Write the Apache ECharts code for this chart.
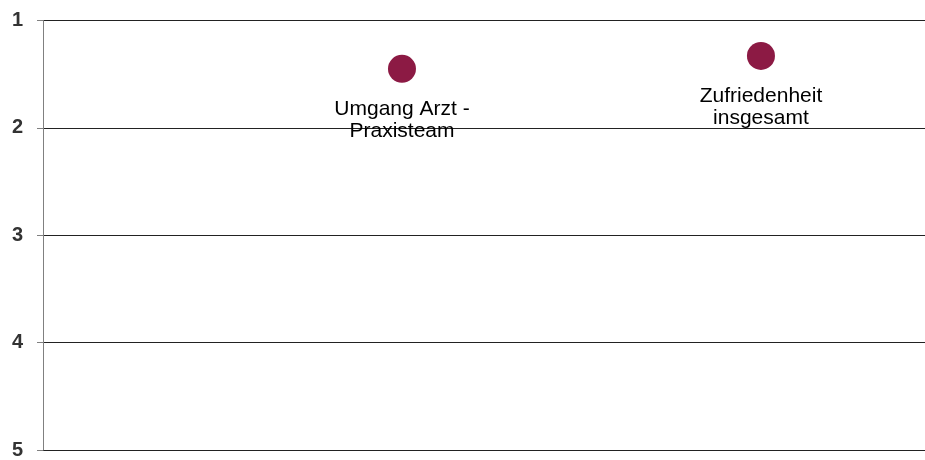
<!DOCTYPE html>
<html>
<head>
<meta charset="utf-8">
<script src="https://cdn.jsdelivr.net/npm/echarts@6/dist/echarts.min.js"></script>
<style>
  html, body { margin: 0; padding: 0; background: #fff; overflow: hidden; }
  #chart { width: 925px; height: 460px; }
</style>
</head>
<body>
<div id="chart"></div>
<script>
// Bewertung (1 = beste Note), Position auf der x-Achse = Reihenfolge
const labels = ['Umgang Arzt -\nPraxisteam', 'Zufriedenheit\ninsgesamt'];
const xPos = [1, 2];
const scores = [1.45, 1.33];
const yTicks = [1, 2, 3, 4, 5];

const chart = echarts.init(document.getElementById('chart'), null, { renderer: 'canvas' });

const points = scores.map((v, i) => ({ value: [xPos[i], v], name: labels[i] }));

chart.setOption({
  animation: false,
  grid: { left: 43, right: 0, top: 20.5, bottom: 6.5 },
  xAxis: {
    type: 'value', min: 0, max: 2.457,
    show: false, splitLine: { show: false }
  },
  yAxis: {
    type: 'value', inverse: true,
    min: yTicks[0], max: yTicks[yTicks.length - 1], interval: 1,
    axisLine: { show: true, lineStyle: { color: '#808080', width: 1 } },
    axisTick: { show: true, length: 6, lineStyle: { color: '#808080' } },
    axisLabel: {
      margin: 20, color: '#333', fontWeight: 'bold', fontSize: 20,
      fontFamily: 'Liberation Sans, Arial, sans-serif'
    },
    splitLine: { show: true, lineStyle: { color: '#222', width: 1 } }
  },
  series: [{
    type: 'scatter',
    data: points,
    symbol: 'circle',
    symbolSize: 28,
    itemStyle: { color: '#8c1a44', opacity: 1 },
    label: {
      show: true, position: 'bottom', distance: 15,
      formatter: p => p.name,
      color: '#000', opacity: 1, fontSize: 21, lineHeight: 22, align: 'center',
      fontFamily: 'Liberation Sans, Arial, sans-serif'
    }
  }]
});
</script>
</body>
</html>
